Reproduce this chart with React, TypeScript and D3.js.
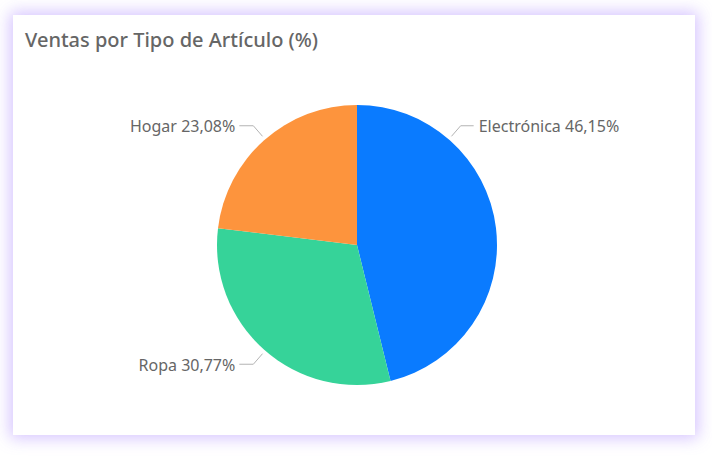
import React from 'react';
import * as d3 from 'd3';

const categories = ['Electrónica', 'Ropa', 'Hogar'];
const shares = [46.15, 30.77, 23.08];
const colors = ['#0A7BFF', '#36D399', '#FD943D'];
// angle (deg, clockwise from top) where each leader line leaves the pie
const labelAngles = [41, 221, 319];

const W = 712;
const H = 456;
const card = { x: 13, y: 15, w: 682, h: 420 };
const cx = 357;
const cy = 245;
const r = 140;

const fmt = (v: number) => v.toFixed(2).replace('.', ',') + '%';

export default function App() {
  const pie = d3.pie<number>().sort(null).value(d => d);
  const arcs = pie(shares);
  const arc = d3.arc<d3.PieArcDatum<number>>().innerRadius(0).outerRadius(r);

  const point = (deg: number, rad: number): [number, number] => {
    const a = (deg * Math.PI) / 180;
    return [cx + rad * Math.sin(a), cy - rad * Math.cos(a)];
  };

  return (
    <div style={{ position: 'fixed', left: 0, top: 0, width: W, height: H, background: '#fff' }}>
      <svg width={W} height={H} style={{ display: 'block' }}>
        <defs>
          <filter id="glow" x="-10%" y="-10%" width="120%" height="120%">
            <feGaussianBlur stdDeviation="8" />
          </filter>
        </defs>
        <rect x={card.x - 3} y={card.y - 3} width={card.w + 6} height={card.h + 6}
          fill="#cdb8ff" opacity={0.85} filter="url(#glow)" />
        <rect x={card.x} y={card.y} width={card.w} height={card.h} fill="#fff" />
        <text x={25} y={47} fontFamily="'Noto Sans', sans-serif" fontSize={20} fontWeight={500} fill="#666666">
          Ventas por Tipo de Artículo (%)
        </text>
        <g transform={`translate(${cx},${cy})`}>
          {arcs.map((d, i) => (
            <path key={categories[i]} d={arc(d) || ''} fill={colors[i]} />
          ))}
        </g>
        {arcs.map((d, i) => {
          const deg = labelAngles[i];
          const right = deg < 180;
          const p0 = point(deg, r + 4);
          const p1 = point(deg, r + 18);
          const elbowY = p1[1];
          const p2: [number, number] = [p1[0] + (right ? 13 : -14), elbowY];
          const tx = p2[0] + (right ? 5 : -4);
          return (
            <g key={'lab' + i}>
              <polyline points={[p0, p1, p2].map(p => p.join(',')).join(' ')}
                fill="none" stroke="#b3b3b3" strokeWidth={1} />
              <text x={tx} y={elbowY + 6.5} textAnchor={right ? 'start' : 'end'}
                fontFamily="'Noto Sans', sans-serif" fontSize={16} fill="#666666">
                {categories[i]} {fmt(d.data)}
              </text>
            </g>
          );
        })}
      </svg>
    </div>
  );
}
